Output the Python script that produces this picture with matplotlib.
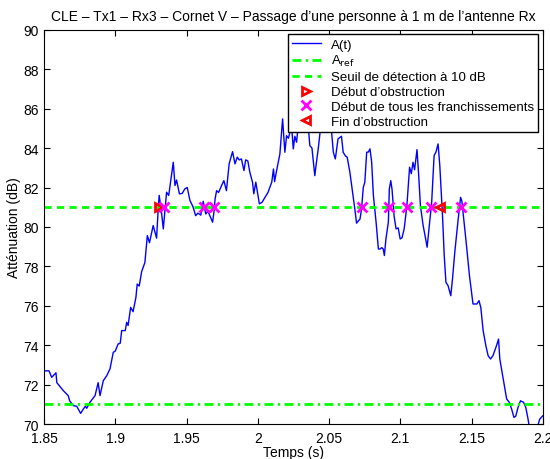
import numpy as np
import matplotlib
matplotlib.use('Agg')
import matplotlib.pyplot as plt

plt.rcParams['font.family'] = ['Liberation Sans', 'DejaVu Sans']

# A(t)
temps = [1.850, 1.8535, 1.8554, 1.8584, 1.859, 1.8636, 1.867, 1.868, 1.8706, 1.873,
         1.8757, 1.8776, 1.879, 1.880, 1.8822, 1.8858, 1.888, 1.8893, 1.8916, 1.894,
         1.8963, 1.8986, 1.900, 1.902, 1.9035, 1.9045, 1.907, 1.908, 1.909, 1.9108,
         1.9125, 1.9145, 1.9154, 1.9168, 1.9185, 1.9208, 1.9225, 1.924, 1.9266, 1.929,
         1.9300, 1.9308, 1.9322, 1.9337, 1.936, 1.9375, 1.9407, 1.9419, 1.943, 1.945,
         1.947, 1.9488, 1.9505, 1.9524, 1.9545, 1.9564, 1.958, 1.960, 1.9617, 1.9635,
         1.965, 1.9683, 1.9695, 1.970, 1.9711, 1.9725, 1.9746, 1.9762, 1.978, 1.9799,
         1.9823, 1.984, 1.9856, 1.987, 1.9885, 1.9903, 1.9915, 1.993, 1.9944, 1.9963,
         1.9972, 1.9986, 2.0011, 2.003, 2.0072, 2.0098, 2.0110, 2.0118, 2.0132, 2.0155,
         2.0174, 2.019, 2.0202, 2.0215, 2.0237, 2.0249, 2.026, 2.0272, 2.029, 2.031,
         2.033, 2.0345, 2.0365, 2.038, 2.040, 2.041, 2.0424, 2.044, 2.046, 2.048,
         2.050, 2.053, 2.0544, 2.0563, 2.0587, 2.0599, 2.0615, 2.0627, 2.0646, 2.0665,
         2.0681, 2.0693, 2.0705, 2.0717, 2.0728, 2.074, 2.0751, 2.0764, 2.0776, 2.0787,
         2.0799, 2.0811, 2.083, 2.0846, 2.0858, 2.0870, 2.0880, 2.0888, 2.0899, 2.0916,
         2.0923, 2.0933, 2.0942, 2.0956, 2.097, 2.0985, 2.0999, 2.1012, 2.1027, 2.1046,
         2.1065, 2.1077, 2.1089, 2.1100, 2.1117, 2.1129, 2.1141, 2.116, 2.1175, 2.1188,
         2.1206, 2.1220, 2.1237, 2.125, 2.1265, 2.1277, 2.1296, 2.1308, 2.132, 2.1335,
         2.1354, 2.1366, 2.1382, 2.1406, 2.1423, 2.1432, 2.144, 2.1462, 2.1485, 2.151,
         2.1537, 2.1552, 2.1565, 2.1581, 2.160, 2.1616, 2.1633, 2.1650, 2.1675, 2.1689,
         2.1698, 2.1722, 2.1746, 2.1765, 2.1781, 2.1797, 2.181, 2.1826, 2.1843, 2.1865,
         2.188, 2.1895, 2.1904, 2.193, 2.1955, 2.1966, 2.1978, 2.200]
attenuation = [72.7, 72.7, 72.37, 72.6, 72.1, 71.69, 71.44, 71.18, 70.93, 70.9,
               70.54, 70.76, 70.9, 70.8, 71.1, 71.44, 72.1, 71.44, 72.2, 72.45,
               72.8, 73.64, 73.7, 74.06, 74.1, 74.74, 74.74, 75.16, 75.0, 75.92,
               75.7, 76.43, 77.1, 77.0, 77.73, 78.2, 79.56, 79.2, 80.07, 79.43,
               80.75, 81.6, 80.9, 79.9, 81.76, 81.6, 83.28, 82.1, 82.38, 81.68,
               81.7, 81.93, 82.0, 81.34, 81.03, 80.57, 80.7, 80.6, 81.3, 80.66,
               80.8, 80.24, 80.9, 81.4, 81.84, 81.75, 82.1, 82.35, 81.84, 83.2,
               83.82, 83.2, 83.54, 83.4, 83.45, 82.86, 83.4, 83.35, 82.78, 82.27,
               81.68, 82.27, 81.17, 81.25, 81.76, 82.27, 82.94, 82.3, 82.86, 83.7,
               85.48, 83.79, 84.63, 84.5, 85.14, 83.96, 84.6, 84.3, 85.6, 86.2,
               85.4, 85.9, 84.13, 84.0, 82.6, 83.2, 83.96, 85.0, 86.0, 85.3,
               86.3, 83.79, 83.45, 84.47, 84.6, 83.79, 83.6, 83.54, 82.78, 81.76,
               80.9, 80.19, 80.3, 80.4, 80.9, 82.0, 82.27, 83.79, 83.8, 83.96,
               83.28, 81.6, 80.24, 78.88, 78.88, 78.95, 78.88, 78.55, 79.39, 80.24,
               81.93, 82.35, 81.9, 80.57, 79.9, 79.95, 79.39, 79.45, 79.9, 81.08,
               83.03, 82.7, 83.28, 82.9, 83.92, 82.6, 81.08, 80.07, 79.5, 78.97,
               80.24, 81.25, 83.62, 83.8, 84.21, 83.11, 80.57, 78.55, 77.19, 77.02,
               76.51, 77.36, 78.71, 80.4, 81.5, 81.3, 80.75, 79.22, 77.53, 76.09,
               76.09, 76.26, 75.9, 74.74, 73.98, 73.47, 73.3, 73.47, 73.98, 74.31,
               73.3, 72.28, 71.27, 71.1, 70.76, 70.34, 70.4, 70.85, 71.18, 71.1,
               70.85, 70.3, 69.9, 69.4, 69.6, 69.95, 70.25, 70.42]

a_ref = 71
seuil = 81
debut_obstruction = [1.9309]
franchissements = [1.9341, 1.9622, 1.9692, 2.0728, 2.0919, 2.1050, 2.1218, 2.1424]
fin_obstruction = [2.1277]

xticks = [1.85, 1.9, 1.95, 2, 2.05, 2.1, 2.15, 2.2]
xticklabels = ['1.85', '1.9', '1.95', '2', '2.05', '2.1', '2.15', '2.2']
yticks = [70, 72, 74, 76, 78, 80, 82, 84, 86, 88, 90]

fig = plt.figure(figsize=(5.5, 4.6), dpi=100)
ax = fig.add_axes([0.08, 0.076, 0.907, 0.857])

ax.plot(temps, attenuation, '-', color='#0000ff', lw=1, label='A(t)')
ax.plot([xticks[0], xticks[-1]], [a_ref, a_ref], color='#00ff00', lw=2,
        linestyle=(0, (3.2, 1.6, 0.8, 1.6)), label=r'A$_{\mathrm{ref}}$')
ax.plot([xticks[0], xticks[-1]], [seuil, seuil], color='#00ff00', lw=2,
        linestyle=(0, (2.6, 1.9)), label='Seuil de détection à 10 dB')
ax.plot(debut_obstruction, [seuil] * len(debut_obstruction), '>', color='#ff0000',
        mfc='none', mew=2, ms=6, label='Début d’obstruction')
ax.plot(franchissements, [seuil] * len(franchissements), 'x', color='#ff00ff',
        mew=2, ms=7, label='Début de tous les franchissements')
ax.plot(fin_obstruction, [seuil] * len(fin_obstruction), '<', color='#ff0000',
        mfc='none', mew=2, ms=6, label='Fin d’obstruction')

ax.set_xlim(1.85, 2.2)
ax.set_ylim(70, 90)
ax.set_xticks(xticks)
ax.set_xticklabels(xticklabels)
ax.set_yticks(yticks)
ax.tick_params(direction='in', top=True, right=True, labelsize=10, length=4)
ax.tick_params(axis='x', pad=5)
ax.set_xlabel('Temps (s)', fontsize=10, labelpad=0)
ax.set_ylabel('Atténuation (dB)', fontsize=10, labelpad=2)
ax.set_title('CLE – Tx1 – Rx3 – Cornet V – Passage d’une personne à 1 m de l’antenne Rx',
             fontsize=10, pad=7)

leg = ax.legend(loc='upper right', fontsize=9.5, frameon=True, fancybox=False,
                edgecolor='black', framealpha=1, borderaxespad=0.35,
                handlelength=2.2, handletextpad=0.8, labelspacing=0.2,
                borderpad=0.3)
leg.get_frame().set_linewidth(1)

plt.savefig('out.png', dpi=100)
